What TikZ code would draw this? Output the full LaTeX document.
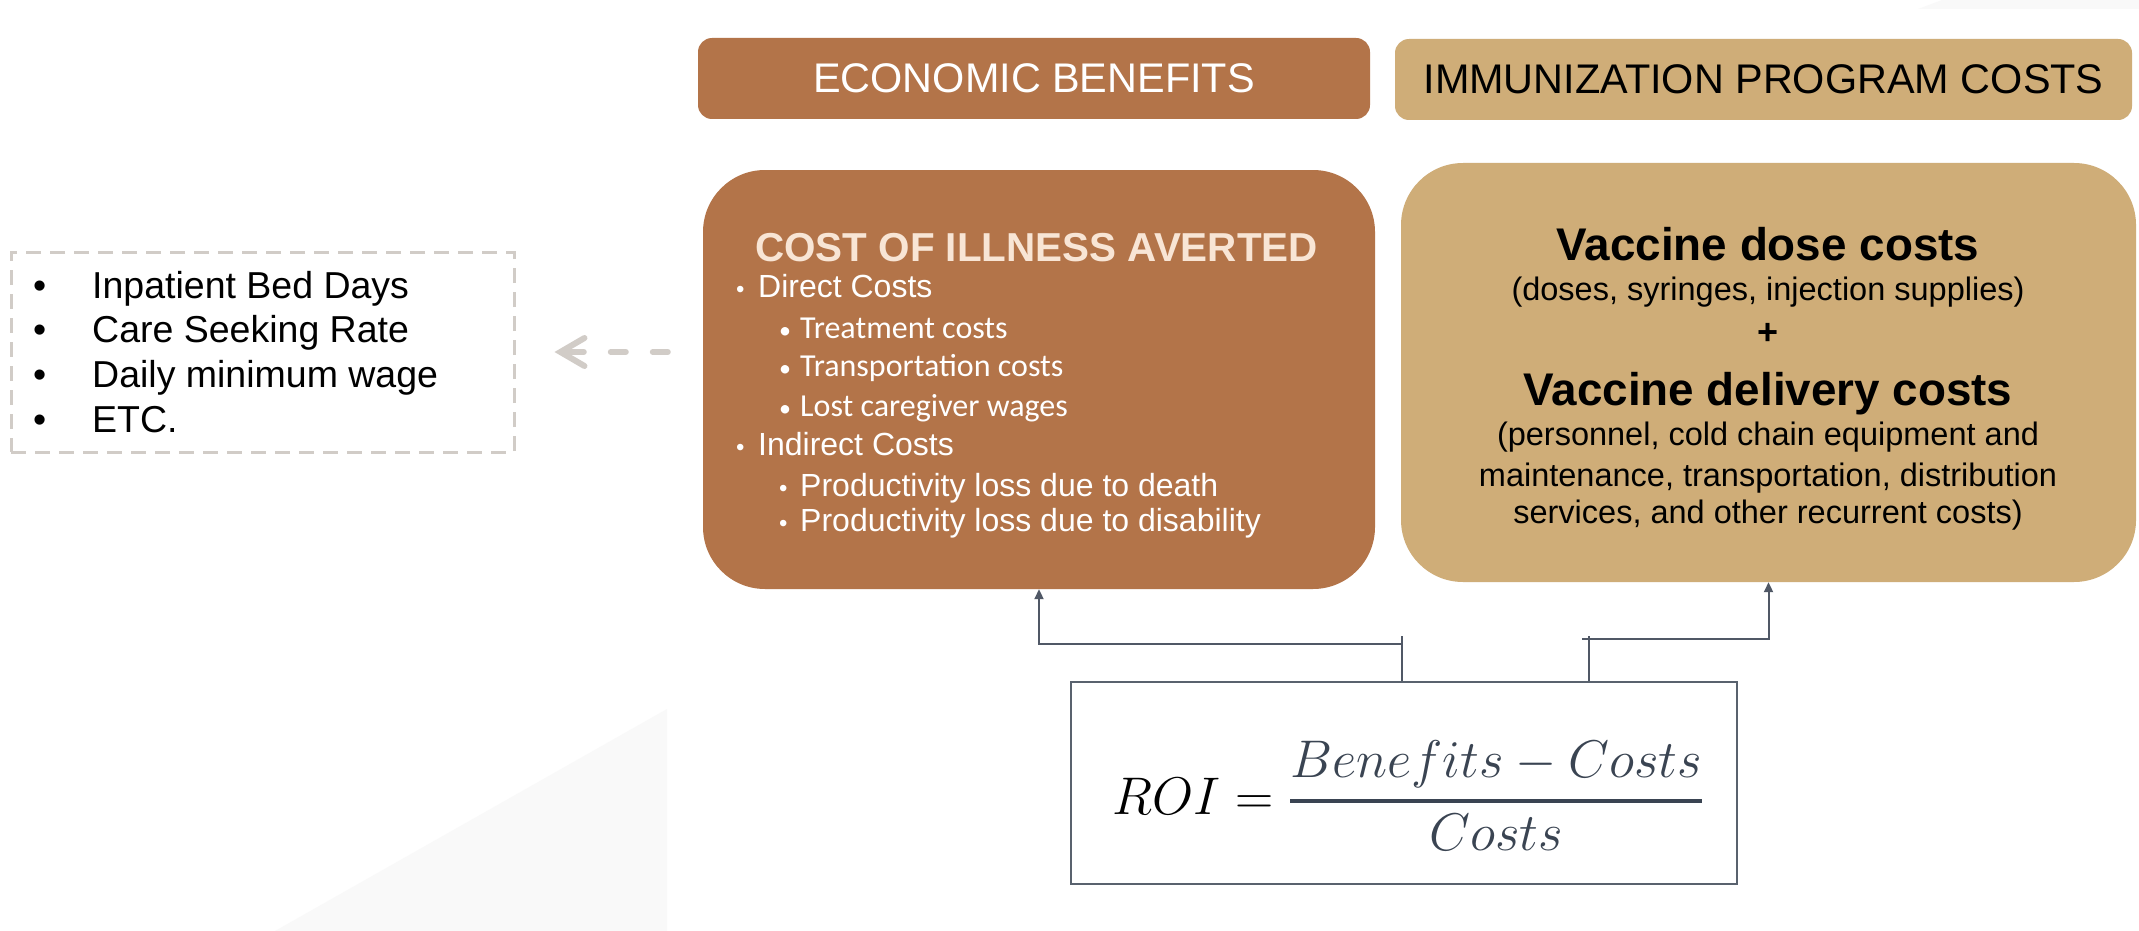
\documentclass[tikz,border=0pt]{standalone}
\usepackage{graphicx}
\usepackage{fontspec}
\setmainfont{Liberation Sans}
\newfontfamily\calib{Carlito}
\usetikzlibrary{arrows.meta}
\definecolor{brownbox}{HTML}{B37449}
\definecolor{tanbox}{HTML}{CFAD78}
\definecolor{cream}{HTML}{F8E5D5}
\definecolor{dashgray}{HTML}{D1CCC7}
\definecolor{connc}{HTML}{505866}
\definecolor{roib}{HTML}{59626E}
\definecolor{fracc}{HTML}{3A4452}
\definecolor{bgtri}{HTML}{F9F9F9}
\tikzset{
  hdr/.style={rounded corners=14pt, minimum height=81pt, inner sep=0pt},
  bigbox/.style={rounded corners=62pt, minimum height=419pt, inner sep=0pt},
  lt/.style={anchor=base west, inner sep=0pt},
  ct/.style={anchor=base, inner sep=0pt},
  conn/.style={draw=connc, line width=2pt},
  arr/.style={-{Triangle[length=10pt,width=9pt]}},
  listtxt/.style={lt, font=\fontsize{37.5}{44}\selectfont},
  coitxt/.style={lt, text=white, font=\fontsize{32}{38}\selectfont},
  coisub/.style={lt, text=white, font=\calib\fontsize{32}{38}\selectfont},
  vsmall/.style={ct, font=\fontsize{32.5}{39}\selectfont},
  vbig/.style={ct, font=\bfseries\fontsize{45.8}{54}\selectfont},
}
\newcommand{\lbul}{\makebox[59pt][l]{\textbullet}}
\newcommand{\cbulA}{\makebox[22pt][l]{\fontsize{24}{24}\selectfont\textbullet}}
\newcommand{\cbulB}{\makebox[21pt][l]{\fontsize{24}{24}\selectfont\textbullet}}
\begin{document}
\begin{tikzpicture}[x=1pt,y=-1pt]
\useasboundingbox (0,0) rectangle (2139,931);
\fill[white] (0,0) rectangle (2139,931);
\fill[bgtri] (667,709) -- (667,931) -- (275,931) -- cycle;
\fill[bgtri] (1918,9) -- (1942,0) -- (2139,0) -- (2139,9) -- cycle;

% headers
\node[hdr, fill=brownbox, minimum width=672pt, text=white] (eb) at (1034,78.5)
  {\fontsize{41.4}{48}\selectfont ECONOMIC BENEFITS};
\node[hdr, fill=tanbox, minimum width=737pt] (ipc) at (1763.5,79.5)
  {\fontsize{41.4}{48}\selectfont IMMUNIZATION PROGRAM COSTS};

% big boxes
\node[bigbox, fill=brownbox, minimum width=672pt] (coi) at (1039,379.5) {};
\node[bigbox, fill=tanbox, minimum width=735pt] (vac) at (1768.5,372.5) {};

% cost of illness text
\node[lt, text=cream] (coititle) at (755,261) {\bfseries\fontsize{40.4}{48}\selectfont COST OF ILLNESS AVERTED};
\node[coitxt] (c1) at (736,297) {\cbulA Direct Costs};
\node[coisub] (c2) at (779,338) {\cbulB Treatment costs};
\node[coisub] (c3) at (779,376) {\cbulB Transportation costs};
\node[coisub] (c4) at (779,416) {\cbulB Lost caregiver wages};
\node[coitxt] (c5) at (736,455) {\cbulA Indirect Costs};
\node[coitxt] (c6) at (779,496) {\cbulB Productivity loss due to death};
\node[coitxt] (c7) at (779,531) {\cbulB Productivity loss due to disability};

% vaccine text
\node[vbig] (v1) at (1768,260) {Vaccine dose costs};
\node[vsmall] (v2) at (1768,300) {(doses, syringes, injection supplies)};
\node[ct] (v3) at (1768,344) {\bfseries\fontsize{36}{40}\selectfont +};
\node[vbig] (v4) at (1768,405) {Vaccine delivery costs};
\node[vsmall] (v5) at (1768,445) {(personnel, cold chain equipment and};
\node[vsmall] (v6) at (1768,486) {maintenance, transportation, distribution};
\node[vsmall] (v7) at (1768,523) {services, and other recurrent costs)};

% left list
\node[draw=dashgray, line width=3pt, dash pattern=on 15pt off 9pt,
      minimum width=503pt, minimum height=200pt, inner sep=0pt] (lst) at (262.5,352) {};
\node[listtxt] (l1) at (33,298) {\lbul Inpatient Bed Days};
\node[listtxt] (l2) at (33,342) {\lbul Care Seeking Rate};
\node[listtxt] (l3) at (33,387) {\lbul Daily minimum wage};
\node[listtxt] (l4) at (33,432) {\lbul ETC.};

% dashed arrow
\path (coi.west |- lst.east) ++(-35,0) coordinate (a1);
\path (lst.east) ++(39,0) coordinate (a2);
\draw[dashgray, line width=6pt, line cap=round, dash pattern=on 15pt off 27pt,
      -{Straight Barb[length=24pt,width=28pt,line cap=round]}] (a1) -- (a2);

% ROI box
\node[draw=roib, line width=2pt, minimum width=666pt, minimum height=202pt, inner sep=0pt] (roi) at (1404,783) {};
\node[lt] (frm) at (1112,814) {\scalebox{2.13}{\fontsize{24.88}{30}\selectfont $ROI = {\color{fracc}\displaystyle{Benefits - Costs \above 1.8pt Costs}}$}};

% connectors
\path (roi.north west) ++(332,0) coordinate (rl);
\path (roi.north west) ++(519,0) coordinate (rr);
\draw[conn] (rl) -- ++(0,-45);
\draw[conn,arr] (rl) ++(0,-37) -| (coi.south);
\draw[conn] (rr) -- ++(0,-45);
\draw[conn,arr] (rr) ++(-7,-42) -| (vac.south);
\end{tikzpicture}
\end{document}
